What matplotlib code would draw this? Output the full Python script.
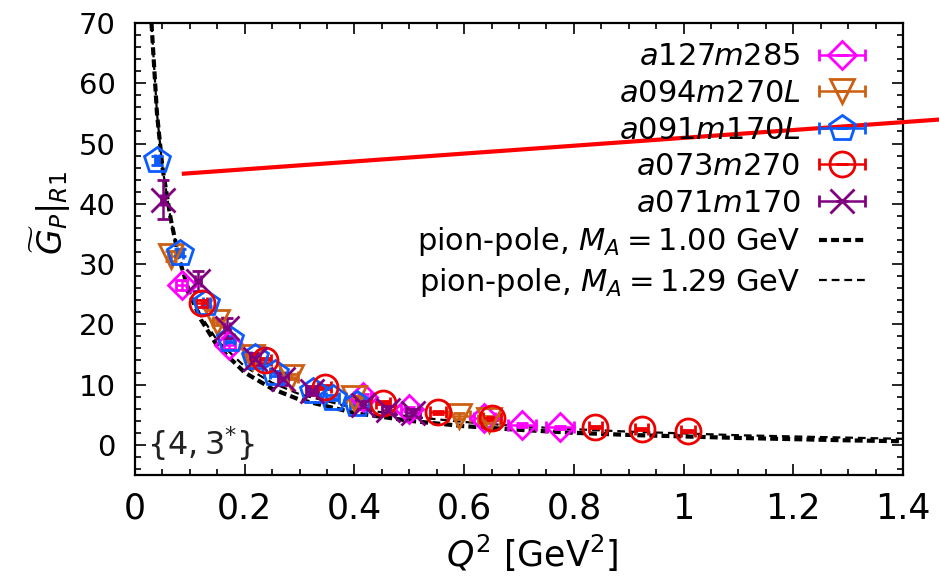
import matplotlib
matplotlib.use("Agg")
import matplotlib.pyplot as plt
from matplotlib.legend_handler import HandlerErrorbar
from matplotlib.container import ErrorbarContainer
from matplotlib.ticker import MultipleLocator

plt.rcParams["font.family"] = ["DejaVu Sans"]
plt.rcParams["mathtext.fontset"] = "dejavusans"

# data
q2_a127 = [0.085, 0.172, 0.415, 0.500, 0.637, 0.705, 0.775]
gp_a127 = [26.5, 16.5, 8.0, 6.0, 4.4, 3.3, 2.9]
dq_a127 = [0.010, 0.010, 0.015, 0.015, 0.020, 0.026, 0.026]
dg_a127 = [0.8, 0.6, 0.4, 0.3, 0.3, 0.3, 0.3]

q2_a094 = [0.066, 0.150, 0.213, 0.285, 0.400, 0.590, 0.645]
gp_a094 = [31.3, 20.4, 14.5, 11.3, 7.8, 4.8, 4.2]
dq_a094 = [0.006, 0.008, 0.010, 0.012, 0.015, 0.020, 0.020]
dg_a094 = [0.8, 0.5, 0.4, 0.4, 0.3, 0.5, 0.6]

q2_a091 = [0.040, 0.082, 0.130, 0.173, 0.219, 0.255, 0.324, 0.360, 0.405]
gp_a091 = [47.2, 31.9, 23.5, 17.6, 14.6, 11.9, 9.0, 7.8, 6.8]
dq_a091 = [0.004, 0.005, 0.006, 0.007, 0.008, 0.009, 0.010, 0.012, 0.013]
dg_a091 = [0.8, 0.6, 0.5, 0.5, 0.4, 0.4, 0.4, 0.4, 0.4]

q2_a073 = [0.122, 0.237, 0.346, 0.452, 0.552, 0.651, 0.839, 0.924, 1.008]
gp_a073 = [23.5, 14.0, 9.6, 7.0, 5.4, 4.4, 3.0, 2.6, 2.3]
dq_a073 = [0.010, 0.011, 0.012, 0.013, 0.015, 0.016, 0.012, 0.012, 0.012]
dg_a073 = [0.6, 0.4, 0.3, 0.3, 0.2, 0.2, 0.2, 0.2, 0.2]

q2_a071 = [0.051, 0.115, 0.168, 0.218, 0.270, 0.322, 0.415, 0.462, 0.507]
gp_a071 = [40.7, 27.2, 19.4, 14.3, 11.0, 9.0, 6.6, 5.8, 5.3]
dq_a071 = [0.004, 0.005, 0.006, 0.008, 0.009, 0.010, 0.012, 0.012, 0.013]
dg_a071 = [3.2, 1.6, 1.6, 1.0, 1.0, 0.8, 0.7, 0.7, 0.6]

# pion-pole curves
q2_pole = [0.025, 0.030, 0.040, 0.050, 0.065, 0.080, 0.100, 0.120, 0.150, 0.200,
           0.250, 0.300, 0.400, 0.500, 0.600, 0.700, 0.800, 0.900, 1.000, 1.100,
           1.200, 1.300, 1.400]
gp_pole_100 = [82.0, 70.0, 55.0, 46.0, 37.5, 31.0, 25.0, 20.8, 16.4, 12.0,
               9.3, 7.5, 5.3, 4.0, 3.1, 2.5, 2.0, 1.65, 1.4, 1.15,
               0.95, 0.75, 0.6]
gp_pole_129 = [82.0, 70.0, 55.0, 46.0, 37.5, 31.0, 25.3, 21.4, 17.3, 13.0,
               10.3, 8.4, 6.1, 4.7, 3.8, 3.1, 2.6, 2.2, 1.9, 1.6,
               1.4, 1.2, 1.0]

# straight red line
q2_red = [0.089, 1.50]
gp_red = [45.0, 54.2]

series = [
    (q2_a127, gp_a127, dq_a127, dg_a127, "D", "#ff00ff", 14, r"$a127m285$"),
    (q2_a094, gp_a094, dq_a094, dg_a094, "v", "#cc5f10", 17, r"$a094m270L$"),
    (q2_a091, gp_a091, dq_a091, dg_a091, "p", "#0a5cff", 19, r"$a091m170L$"),
    (q2_a073, gp_a073, dq_a073, dg_a073, "o", "#ee0000", 18, r"$a073m270$"),
    (q2_a071, gp_a071, dq_a071, dg_a071, "x", "#800080", 17, r"$a071m170$"),
]

fig = plt.figure(figsize=(9.39, 5.79), dpi=100)
ax = fig.add_axes([0.1438, 0.1796, 0.8179, 0.7807])

handles = []
for q, g, dq, dg, mk, col, ms, lab in series:
    eb = ax.errorbar(q, g, xerr=dq, yerr=dg, fmt=mk, ms=ms, mfc="none", mec=col,
                     mew=2.0, ecolor=col, elinewidth=1.8, capsize=4, capthick=1.8,
                     linestyle="none", label=lab, zorder=3)
    handles.append(eb)

l1, = ax.plot(q2_pole, gp_pole_100, color="black", lw=3.0, dashes=(1.9, 1.0),
              label=r"pion-pole, $M_A = 1.00$ GeV", zorder=2)
l2, = ax.plot(q2_pole, gp_pole_129, color="black", lw=1.6, dashes=(3.5, 2.2),
              label=r"pion-pole, $M_A = 1.29$ GeV", zorder=2)
handles += [l1, l2]

ax.plot(q2_red, gp_red, color="#ff0000", lw=3.0, clip_on=False, zorder=4)

ax.set_xlim(0, 1.4)
ax.set_ylim(-5, 70)
ax.xaxis.set_major_locator(MultipleLocator(0.2))
ax.xaxis.set_minor_locator(MultipleLocator(0.05))
ax.yaxis.set_major_locator(MultipleLocator(10))
ax.yaxis.set_minor_locator(MultipleLocator(2))
ax.set_xticks([0, 0.2, 0.4, 0.6, 0.8, 1.0, 1.2, 1.4])
ax.set_xticklabels(["0", "0.2", "0.4", "0.6", "0.8", "1", "1.2", "1.4"])

ax.tick_params(which="both", direction="in", top=True, right=True, width=1.2)
ax.tick_params(which="major", length=8)
ax.tick_params(which="minor", length=4.5)
ax.tick_params(axis="y", labelsize=21, pad=14)
ax.tick_params(axis="x", labelsize=25, pad=12)
for sp in ax.spines.values():
    sp.set_linewidth(1.6)

ax.set_xlabel(r"$Q^2$ [GeV$^2$]", fontsize=25)
ax.xaxis.set_label_coords(0.517, -0.173)
ax.xaxis.label.set_va("center")
ax.set_ylabel(r"$\widetilde{G}_P|_{R1}$", fontsize=24)
ax.yaxis.set_label_coords(-0.11, 0.58)
ax.yaxis.label.set_va("center")

ax.text(0.015, 0.07, r"$\{4, 3^{*}\}$", transform=ax.transAxes, fontsize=23,
        ha="left", va="center", color="#222222")

hmap = {ErrorbarContainer: HandlerErrorbar(xerr_size=0.75, yerr_size=0.0)}
leg = ax.legend(handles=handles, loc="upper right", bbox_to_anchor=(0.921, 0.927),
                bbox_transform=fig.transFigure, frameon=False, fontsize=22,
                markerfirst=False, handlelength=1.5, handletextpad=0.6,
                labelspacing=0.25, borderpad=0, borderaxespad=0, handler_map=hmap)

fig.savefig("out.png", dpi=100)
